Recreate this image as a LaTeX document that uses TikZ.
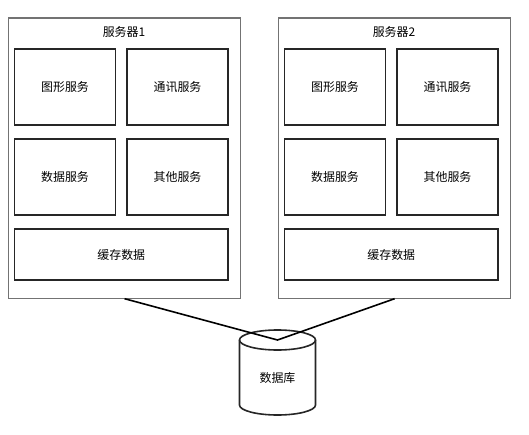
\documentclass[tikz,border=0pt]{standalone}
\usepackage{fontspec}
\setmainfont{Noto Sans CJK SC}
\begin{document}
\begin{tikzpicture}[x=1bp,y=-1bp,
  outerbox/.style={draw=black!55,line width=1.2bp},
  svcbox/.style={draw=black!85,line width=1.6bp,inner sep=0pt},
  lbl/.style={font=\fontsize{12}{14}\selectfont,text=black},
  link/.style={draw=black,line width=1.6bp}]
\useasboundingbox (0,0) rectangle (529,435);
\foreach \n/\dx in {1/0,2/270}{
  \begin{scope}[xshift=\dx bp]
  \node[outerbox,minimum width=232bp,minimum height=280bp,anchor=north west] (srv\n) at (8,17.5) {};
  \node[lbl] (t\n) at (124,32) {服务器\n};
  \node[svcbox,minimum width=101bp,minimum height=76bp,lbl] (a\n) at (65,87) {图形服务};
  \node[svcbox,minimum width=101bp,minimum height=76bp,lbl] (b\n) at (177.5,87) {通讯服务};
  \node[svcbox,minimum width=101bp,minimum height=76bp,lbl] (c\n) at (65,177) {数据服务};
  \node[svcbox,minimum width=101bp,minimum height=76bp,lbl] (d\n) at (177.5,177) {其他服务};
  \node[svcbox,minimum width=213.5bp,minimum height=51bp,lbl] (e\n) at (121.25,254.5) {缓存数据};
  \end{scope}
}
% database cylinder
\draw[line width=1.6bp,draw=black!85,fill=white] (239.5,340) -- (239.5,405) arc[start angle=180,end angle=0,x radius=38,y radius=10] -- (315.5,340) arc[start angle=0,end angle=-180,x radius=38,y radius=10] -- cycle;
\draw[line width=1.6bp,draw=black!85] (239.5,340) arc[start angle=180,end angle=0,x radius=38,y radius=10];
\node[lbl] (db) at (277.5,378) {数据库};
\coordinate (dbtop) at (277.5,340);
\draw[link] (srv1.south) -- (dbtop) -- (srv2.south);
\end{tikzpicture}
\end{document}
